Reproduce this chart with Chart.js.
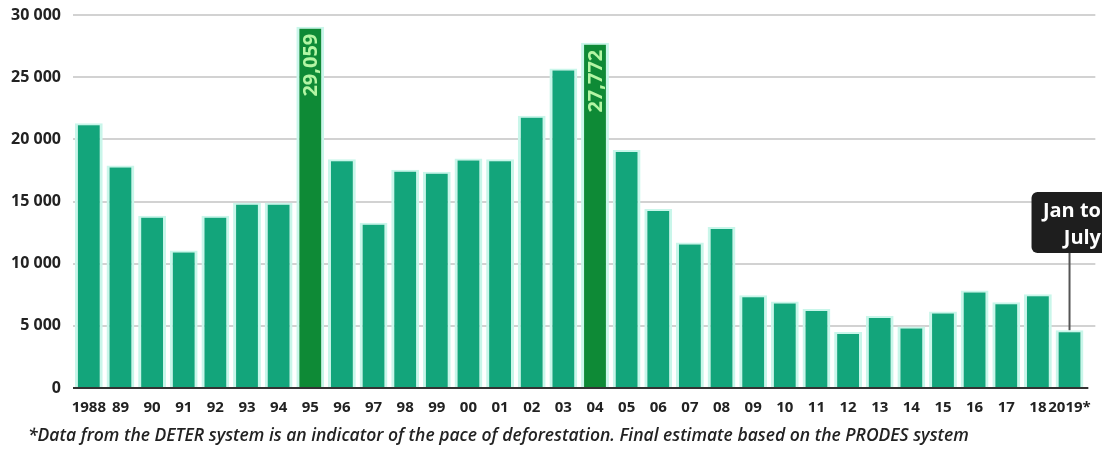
<!DOCTYPE html>
<html>
<head>
<meta charset="utf-8">
<script src="https://cdn.jsdelivr.net/npm/chart.js@4/dist/chart.umd.min.js"></script>
<style>
  html, body { margin: 0; padding: 0; background: #fff; }
  #wrap { width: 1102px; height: 450px; position: relative; }
</style>
</head>
<body>
<div id="wrap"><canvas id="chart"></canvas></div>
<script>
// datos: deforestación anual (km2)
const years = ['1988', '89', '90', '91', '92', '93', '94', '95', '96', '97', '98', '99', '00', '01', '02', '03',
  '04', '05', '06', '07', '08', '09', '10', '11', '12', '13', '14', '15', '16', '17', '18', '2019*'];
const areaKm2 = [21300, 17900, 13850, 11050, 13850, 14900, 14900, 29059, 18400, 13300, 17550, 17400, 18450, 18400,
  21900, 25700, 27772, 19150, 14400, 11700, 12950, 7450, 6950, 6350, 4500, 5800, 4950, 6150, 7850, 6900, 7550, 4650];
const highlightYears = ['95', '04'];
const highlightLabels = ['29,059', '27,772'];
const yTicks = [0, 5000, 10000, 15000, 20000, 25000, 30000];
const calloutLines = ['Jan to', 'July'];
const footnote = '*Data from the DETER system is an indicator of the pace of deforestation. Final estimate based on the PRODES system';

const GREEN = '#13a57b';
const DARK_GREEN = '#0e8a36';
const INK = '#222';

function fmtThousands(v) {
  return String(v).replace(/\B(?=(\d{3})+(?!\d))/g, ' ');
}

// grid + eje x propios (se extienden un poco a la derecha como en el original)
const gridPlugin = {
  id: 'gridLines',
  beforeDatasetsDraw(chart) {
    const { ctx, chartArea, scales } = chart;
    ctx.save();
    ctx.strokeStyle = '#d2d2d2';
    ctx.lineWidth = 2;
    yTicks.forEach(v => {
      if (v === 0) return;
      const y = Math.round(scales.y.getPixelForValue(v));
      ctx.beginPath();
      ctx.moveTo(chartArea.left, y);
      ctx.lineTo(chartArea.right + 10, y);
      ctx.stroke();
    });
    ctx.restore();
  },
  afterDatasetsDraw(chart) {
    const { ctx, chartArea, scales } = chart;
    const y0 = scales.y.getPixelForValue(0);
    ctx.save();
    ctx.strokeStyle = '#333';
    ctx.lineWidth = 2;
    ctx.beginPath();
    ctx.moveTo(chartArea.left, y0);
    ctx.lineTo(chartArea.right + 3, y0);
    ctx.stroke();
    ctx.restore();
  }
};

// etiquetas verticales dentro de las barras destacadas
const valueLabelPlugin = {
  id: 'valueLabels',
  afterDatasetsDraw(chart) {
    const { ctx } = chart;
    const meta = chart.getDatasetMeta(0);
    ctx.save();
    ctx.fillStyle = '#b4f5a4';
    ctx.font = 'bold 20px "Open Sans"';
    ctx.textAlign = 'right';
    ctx.textBaseline = 'middle';
    highlightYears.forEach((yr, k) => {
      const i = years.indexOf(yr);
      const bar = meta.data[i];
      ctx.save();
      ctx.translate(bar.x + 1, bar.y + 7);
      ctx.rotate(-Math.PI / 2);
      ctx.fillText(highlightLabels[k], 0, 0);
      ctx.restore();
    });
    ctx.restore();
  }
};

// cuadro "Jan to July" + nota al pie
const calloutPlugin = {
  id: 'callout',
  afterDraw(chart) {
    const { ctx } = chart;
    const meta = chart.getDatasetMeta(0);
    const bar = meta.data[years.length - 1];
    const boxX = bar.x - 38, boxY = 192, boxW = 80, boxH = 61;
    ctx.save();
    ctx.strokeStyle = '#555';
    ctx.lineWidth = 2;
    ctx.beginPath();
    ctx.moveTo(bar.x, boxY + boxH);
    ctx.lineTo(bar.x, bar.y);
    ctx.stroke();

    ctx.fillStyle = '#1e1e1e';
    ctx.beginPath();
    ctx.roundRect(boxX, boxY, boxW, boxH, 6);
    ctx.fill();

    ctx.fillStyle = '#fff';
    ctx.font = 'bold 20px "Open Sans"';
    ctx.textAlign = 'right';
    ctx.textBaseline = 'middle';
    ctx.fillText(calloutLines[0], 1101, boxY + 19);
    ctx.fillText(calloutLines[1], 1101, boxY + 46);

    ctx.fillStyle = INK;
    ctx.font = 'italic 600 17.5px "Open Sans"';
    ctx.textAlign = 'left';
    ctx.fillText(footnote, 28, 436);
    ctx.restore();
  }
};

new Chart(document.getElementById('chart'), {
  type: 'bar',
  data: {
    labels: years,
    datasets: [{
      data: areaKm2,
      backgroundColor: years.map(y => highlightYears.includes(y) ? DARK_GREEN : GREEN),
      borderColor: '#c9f6ea',
      borderWidth: { left: 3, right: 3, top: 2, bottom: 0 },
      borderSkipped: 'start',
      barPercentage: 0.88,
      categoryPercentage: 1
    }]
  },
  options: {
    responsive: true,
    maintainAspectRatio: false,
    animation: false,
    layout: { padding: { top: 15, right: 15, bottom: 0, left: 0 } },
    plugins: { legend: { display: false }, tooltip: { enabled: false } },
    scales: {
      x: {
        grid: { display: false, drawTicks: false },
        border: { display: false },
        ticks: {
          color: INK, font: { family: 'Open Sans', weight: 'bold', size: 15 },
          maxRotation: 0, autoSkip: false, padding: 11
        },
        afterFit(scale) { scale.height = 62; }
      },
      y: {
        min: 0, max: 30000,
        grid: { display: false, drawTicks: false },
        border: { display: false },
        ticks: {
          stepSize: 5000, color: INK, padding: 12,
          font: { family: 'Open Sans', weight: 'bold', size: 16 },
          callback: v => fmtThousands(v)
        },
        afterFit(scale) {
          scale.width = 73;
          scale.paddingTop = 0;
          scale.paddingBottom = 0;
        }
      }
    }
  },
  plugins: [gridPlugin, valueLabelPlugin, calloutPlugin]
});
</script>
</body>
</html>
